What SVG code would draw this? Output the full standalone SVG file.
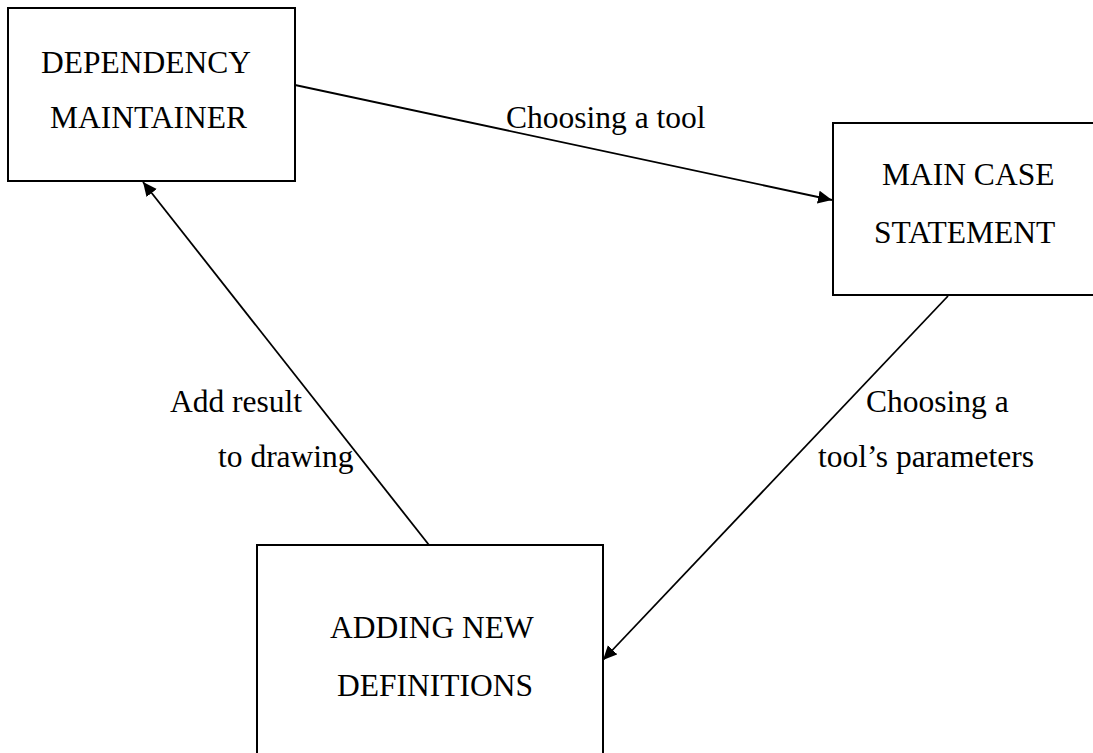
<svg xmlns="http://www.w3.org/2000/svg" width="1093" height="753" viewBox="0 0 1093 753">
<style>
.box{fill:#fff;stroke:#000;stroke-width:2}
.t{font-family:"Liberation Serif","Times New Roman",serif;font-size:31.5px;fill:#000}
.c{stroke:#000;stroke-width:1.8;fill:none}
</style>
<defs>
<marker id="ah" markerUnits="userSpaceOnUse" markerWidth="16" markerHeight="14" refX="14" refY="6.5" orient="auto">
<path d="M0,0 L14,6.5 L0,13 z" fill="#000"/>
</marker>
</defs>
<rect width="1093" height="753" fill="#fff"/>
<g id="connectors">
<line class="c" x1="295" y1="85" x2="832" y2="200" marker-end="url(#ah)"/>
<line class="c" x1="948" y1="296" x2="603" y2="660" marker-end="url(#ah)"/>
<line class="c" x1="429" y1="545" x2="143" y2="182" marker-end="url(#ah)"/>
<text class="t" x="506" y="128">Choosing a tool</text>
<text class="t" x="866" y="412">Choosing a</text>
<text class="t" x="818" y="467">tool’s parameters</text>
<text class="t" x="170" y="412">Add result</text>
<text class="t" x="218" y="467">to drawing</text>
</g>
<g id="dependency-maintainer">
<rect class="box" x="8" y="8" width="287" height="173"/>
<text class="t" x="41" y="73">DEPENDENCY</text>
<text class="t" x="50" y="128">MAINTAINER</text>
</g>
<g id="main-case-statement">
<rect class="box" x="833" y="123" width="264" height="172"/>
<text class="t" x="882" y="185">MAIN CASE</text>
<text class="t" x="874" y="243">STATEMENT</text>
</g>
<g id="adding-new-definitions">
<rect class="box" x="257" y="545" width="346" height="220"/>
<text class="t" x="330" y="638">ADDING NEW</text>
<text class="t" x="337" y="696">DEFINITIONS</text>
</g>
</svg>
